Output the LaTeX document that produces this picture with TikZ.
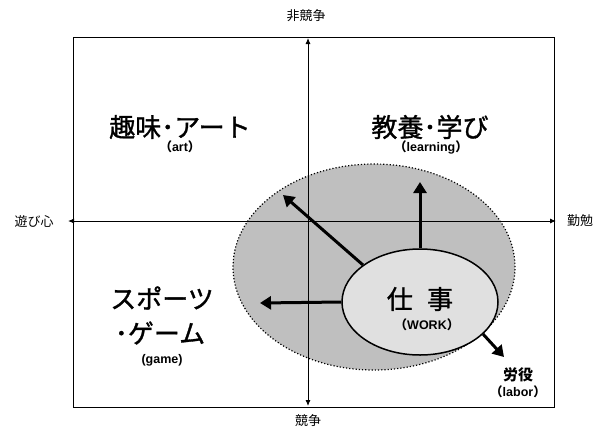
\documentclass[tikz,border=0pt]{standalone}
\usepackage{fontspec}
\setmainfont{Liberation Sans}
\newfontfamily\cjk{Noto Sans CJK JP}
\newfontfamily\cjkm{Noto Sans CJK JP}[FakeBold=1.2]
\usetikzlibrary{arrows.meta,shapes.geometric}
\tikzset{
  axis/.style={line width=0.9pt,{Latex[length=6pt,width=5pt]}-{Latex[length=6pt,width=5pt]}},
  thickarr/.style={line width=3pt,-{Triangle[length=11pt,width=13pt]}},
  big/.style={font=\cjkm\fontsize{26}{28}\selectfont,inner sep=0pt},
  sub/.style={font=\bfseries\fontsize{12.5}{14}\selectfont,inner sep=0pt},
  axlab/.style={font=\cjk\fontsize{13}{15}\selectfont,inner sep=0pt}
}
\newcommand{\fw}[1]{{\cjk\bfseries #1}}
\begin{document}
\begin{tikzpicture}[x=1pt,y=-1pt]
\useasboundingbox (0,0) rectangle (605,432);
\node[draw,line width=1pt,minimum width=481pt,minimum height=370pt,inner sep=0pt] (frame) at (313.5,222.5) {};
\node[draw,dotted,line width=1.2pt,fill=black!25,ellipse,minimum width=282pt,minimum height=206pt,inner sep=0pt] (bigell) at (374,267) {};
\coordinate (atop) at (308,38);
\coordinate (abot) at (308,406);
\coordinate (aleft) at (68,221);
\coordinate (aright) at (556,221);
\draw[axis] (abot) -- (atop);
\draw[axis] (aleft) -- (aright);
\node[draw,line width=1.5pt,fill=black!12,ellipse,minimum width=156pt,minimum height=106pt,inner sep=0pt] (work) at (420,302) {};
\node[big] (shigoto) at (420,299) {仕\hspace{0.55em}事};
\node[sub] (worklab) at (427,325) {\fw{（}WORK\fw{）}};
\coordinate (tup) at (420,182);
\coordinate (tdiag) at (283,195);
\coordinate (tleft) at (260,303);
\coordinate (tlab) at (504,357);
\draw[thickarr] (work.north) -- (tup);
\draw[thickarr] (work.147) -- (tdiag);
\draw[thickarr] (work.west) -- (tleft);
\draw[thickarr] (work.-27) -- (tlab);
\node[big] (art) at (180,127) {趣味･アート};
\node[sub] (artl) at (180,147) {\fw{（}art\fw{）}};
\node[big] (learn) at (430,127) {教養･学び};
\node[sub] (learnl) at (431,147) {\fw{（}learning\fw{）}};
\node[big] (sports) at (162,298) {スポーツ};
\node[big] (game) at (160,333) {･ゲーム};
\node[sub] (gamel) at (162,360) {(game)};
\node[font=\cjk\bfseries\fontsize{15}{17}\selectfont,inner sep=0pt] (labor) at (518,375) {労役};
\node[sub] (laborl) at (518,392) {\fw{（}labor\fw{）}};
\node[axlab] (nonc) at (306,16) {非競争};
\node[axlab] (comp) at (308,421) {競争};
\node[axlab] (play) at (34,221) {遊び心};
\node[axlab] (dil) at (580,221) {勤勉};
\end{tikzpicture}
\end{document}
